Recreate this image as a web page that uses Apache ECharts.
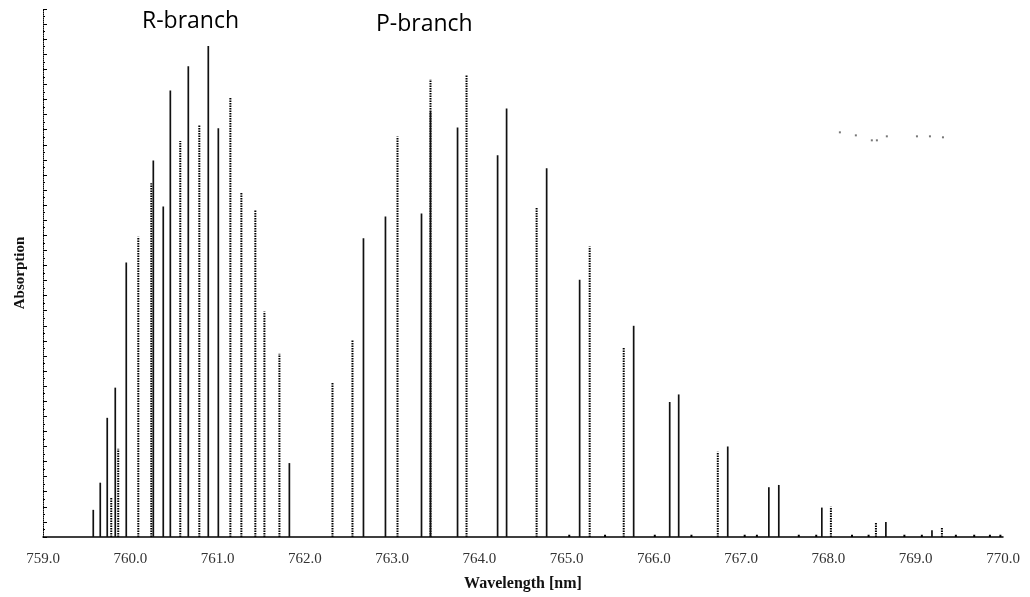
<!DOCTYPE html>
<html>
<head>
<meta charset="utf-8">
<script src="https://cdn.jsdelivr.net/npm/echarts@6/dist/echarts.min.js"></script>
<style>html,body{margin:0;padding:0;background:#fff;}#c{width:1030px;height:597px;}</style>
</head>
<body>
<div id="c"></div>
<script>
// Wavelength ticks (nm)
const xTicks = [759, 760, 761, 762, 763, 764, 765, 766, 767, 768, 769, 770];

// Solid absorption lines: wavelength (nm) and height (arb. units)
const solidWl = [759.576, 759.656, 759.736, 759.828, 759.954, 760.264, 760.378, 760.459, 760.665, 760.894, 761.009, 761.823,
  762.672, 762.924, 763.337, 763.440, 763.750, 764.209, 764.312, 764.771, 765.149, 765.768, 766.181, 766.284, 766.846,
  767.317, 767.431, 767.924, 768.658, 769.186];
const solidH = [3.6, 7.2, 15.8, 19.8, 36.4, 49.9, 43.8, 59.2, 62.4, 65.1, 54.2, 9.8,
  39.6, 42.5, 42.9, 56.4, 54.3, 50.6, 56.8, 48.9, 34.1, 28.0, 17.9, 18.9, 12.0,
  6.6, 6.9, 3.9, 2.0, 0.9];

// Dotted absorption lines
const dottedWl = [759.782, 759.862, 760.092, 760.241, 760.573, 760.791, 761.147, 761.273, 761.433, 761.537, 761.709,
  762.317, 762.546, 763.062, 763.440, 763.853, 764.656, 765.264, 765.654, 766.732, 768.028, 768.544, 769.300];
const dottedH = [5.3, 11.7, 39.8, 46.9, 52.5, 54.7, 58.3, 45.7, 43.3, 29.9, 24.3,
  20.5, 26.2, 53.1, 60.7, 61.2, 43.7, 38.5, 25.2, 11.3, 4.0, 1.9, 1.2];

// Small baseline bumps
const bumpWl = [765.03, 765.44, 766.01, 766.43, 767.04, 767.18, 767.66, 767.86, 768.27, 768.46, 768.87, 769.07, 769.46, 769.67, 769.85, 769.97];
const bumpH = [0.3, 0.3, 0.3, 0.3, 0.3, 0.3, 0.3, 0.3, 0.3, 0.3, 0.3, 0.3, 0.3, 0.3, 0.3, 0.3];

// Stray dots (top right)
const dotWl = [768.131, 768.314, 768.497, 768.555, 768.669, 769.014, 769.163, 769.312];
const dotH = [53.65, 53.25, 52.59, 52.59, 53.12, 53.12, 53.12, 52.99];

const zip = (a, b) => a.map((v, i) => [v, b[i]]);

function spike(style) {
  return function (params, api) {
    const p0 = api.coord([api.value(0), 0]);
    const p1 = api.coord([api.value(0), api.value(1)]);
    return {
      type: 'line',
      shape: { x1: p0[0], y1: p0[1], x2: p1[0], y2: p1[1] },
      style: style
    };
  };
}

const chart = echarts.init(document.getElementById('c'), null, { renderer: 'canvas' });
chart.setOption({
  animation: false,
  backgroundColor: '#fff',
  grid: { left: 43, right: 27, top: 9, bottom: 60 },
  xAxis: {
    type: 'value', min: 759, max: 770, interval: 1,
    axisLine: { onZero: false, lineStyle: { color: '#000', width: 1.5 } },
    axisTick: { show: false },
    splitLine: { show: false },
    axisLabel: {
      formatter: v => v.toFixed(1), margin: 15,
      fontFamily: 'Liberation Serif', fontSize: 15, color: '#333'
    },
    name: 'Wavelength [nm]', nameLocation: 'middle', nameGap: 39,
    nameTextStyle: { fontFamily: 'Liberation Serif', fontWeight: 'bold', fontSize: 16, color: '#111' }
  },
  yAxis: {
    type: 'value', min: 0, max: 70, interval: 2,
    axisLine: { show: true, lineStyle: { color: '#000', width: 1, type: 'dotted' } },
    axisTick: { show: true, inside: true, length: 4, lineStyle: { color: '#000' } },
    minorTick: { show: true, splitNumber: 2, length: 2, lineStyle: { color: '#000' } },
    axisLabel: { show: false },
    splitLine: { show: false },
    name: 'Absorption', nameLocation: 'middle', nameGap: 15,
    nameTextStyle: { fontFamily: 'Liberation Serif', fontWeight: 'bold', fontSize: 15, color: '#111' }
  },
  series: [
    {
      name: 'dotted', type: 'custom', encode: { x: 0, y: 1 },
      data: zip(dottedWl, dottedH),
      renderItem: spike({ stroke: '#000', lineWidth: 2, lineDash: [1.5, 1] })
    },
    {
      name: 'solid', type: 'custom', encode: { x: 0, y: 1 },
      data: zip(solidWl, solidH),
      renderItem: spike({ stroke: '#111', lineWidth: 1.7 })
    },
    {
      name: 'bumps', type: 'custom', encode: { x: 0, y: 1 },
      data: zip(bumpWl, bumpH),
      renderItem: spike({ stroke: '#000', lineWidth: 2 })
    },
    {
      name: 'dots', type: 'scatter', symbol: 'rect', symbolSize: 2,
      itemStyle: { color: '#555' },
      data: zip(dotWl, dotH)
    }
  ],
  graphic: [
    { type: 'text', left: 142, top: 10, style: { text: 'R-branch', font: '23px "Open Sans"', fill: '#000' } },
    { type: 'text', left: 376, top: 13, style: { text: 'P-branch', font: '23px "Open Sans"', fill: '#000' } }
  ]
});
</script>
</body>
</html>
